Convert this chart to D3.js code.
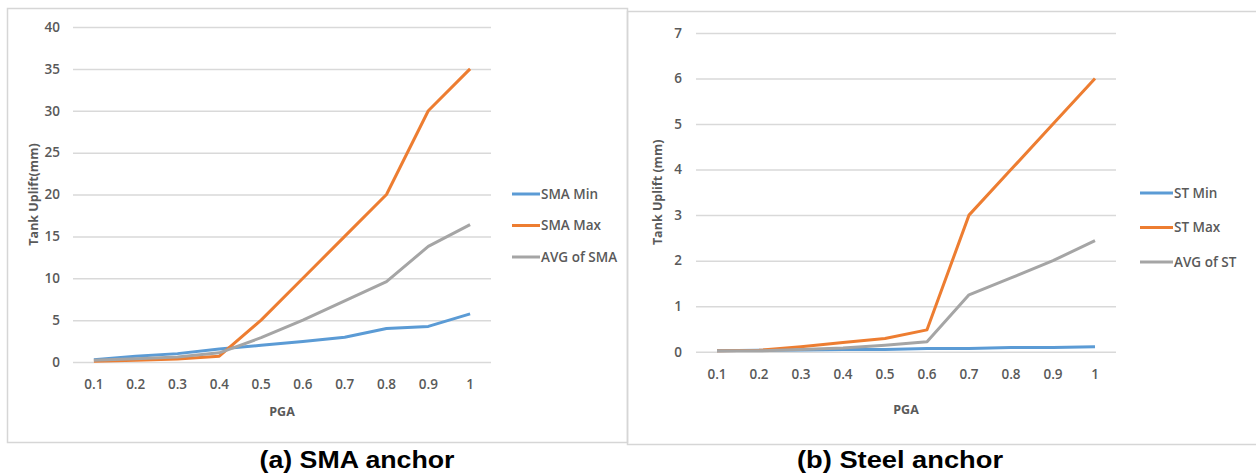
<!DOCTYPE html>
<html><head><meta charset="utf-8">
<script src="https://cdn.jsdelivr.net/npm/d3@7"></script>
<style>body{margin:0;background:#fff}svg{display:block}</style>
</head><body>
<script>
const pga = ["0.1","0.2","0.3","0.4","0.5","0.6","0.7","0.8","0.9","1"];
const smaMin = [0.27,0.7,1.0,1.55,2.0,2.45,2.95,4.0,4.25,5.75];
const smaMax = [0.1,0.2,0.35,0.7,5,10,15,20,30,35];
const smaAvg = [0.2,0.4,0.6,1.1,2.9,5.0,7.3,9.6,13.8,16.4];
const stMin = [0.02,0.03,0.04,0.05,0.05,0.07,0.07,0.09,0.09,0.11];
const stMax = [0.02,0.03,0.11,0.2,0.29,0.48,3.0,4.0,5.0,6.0];
const stAvg = [0.02,0.02,0.05,0.08,0.14,0.22,1.25,1.62,2.0,2.44];
const smaTicks = [0,5,10,15,20,25,30,35,40];
const stTicks = [0,1,2,3,4,5,6,7];
const colors = ["#5B9BD5","#ED7D31","#A5A5A5"];

const svg = d3.select("body").append("svg").attr("width",1256).attr("height",476);
const font = "'Open Sans', sans-serif";

function panel(o){
  const g = svg.append("g");
  g.append("rect").attr("x",o.box[0]+0.5).attr("y",o.box[1]+0.5).attr("width",o.box[2]).attr("height",o.box[3])
    .attr("fill","none").attr("stroke","#d6d6d6").attr("stroke-width",1.5);
  const x = d3.scaleBand().domain(pga).range([o.x0,o.x1]);
  const y = d3.scaleLinear().domain([0,d3.max(o.ticks)]).range([o.y0,o.y1]);
  g.append("g").selectAll("line").data(o.ticks).join("line")
    .attr("x1",o.x0).attr("x2",o.x1).attr("y1",d=>y(d)+0.5).attr("y2",d=>y(d)+0.5)
    .attr("stroke","#d9d9d9").attr("stroke-width",1.5);
  const ya = d3.axisLeft(y).tickValues(o.ticks).tickFormat(d3.format("d")).tickSize(0).tickPadding(o.tickPad);
  const yg = g.append("g").attr("transform",`translate(${o.x0},0)`).call(ya);
  yg.select(".domain").remove();
  yg.selectAll("text").attr("font-family",font).attr("font-size",13.5).attr("font-weight",600).attr("fill","#595959");
  const xa = d3.axisBottom(x).tickSize(0).tickPadding(o.xPad);
  const xg = g.append("g").attr("transform",`translate(0,${o.y0})`).call(xa);
  xg.select(".domain").remove();
  xg.selectAll("text").attr("font-family",font).attr("font-size",13.5).attr("font-weight",600).attr("fill","#595959");
  const line = d3.line().x((d,i)=>x(pga[i])+x.bandwidth()/2).y(d=>y(d));
  o.series.forEach((s,i)=>{
    g.append("path").datum(s.v).attr("d",line).attr("fill","none")
      .attr("stroke",colors[i]).attr("stroke-width",3).attr("stroke-linejoin","round");
  });
  o.series.forEach((s,i)=>{
    const ly = o.leg[1] + i*o.leg[2];
    g.append("line").attr("x1",o.leg[0]).attr("x2",o.leg[0]+o.leg[3]).attr("y1",ly).attr("y2",ly)
      .attr("stroke",colors[i]).attr("stroke-width",3);
    g.append("text").attr("x",o.leg[0]+o.leg[3]+1).attr("y",ly).attr("dy","0.35em")
      .attr("font-family",font).attr("font-size",13.5).attr("font-weight",600).attr("fill","#595959").text(s.name);
  });
  g.append("text").attr("x",(o.x0+o.x1)/2).attr("y",o.xtY).attr("text-anchor","middle")
    .attr("font-family",font).attr("font-size",12.5).attr("font-weight","bold").attr("fill","#595959").text("PGA");
  g.append("text").attr("transform",`translate(${o.ytX},${(o.y0+o.y1)/2}) rotate(-90)`).attr("text-anchor","middle")
    .attr("font-family",font).attr("font-size",12.5).attr("font-weight","bold").attr("fill","#595959").text(o.ytitle);
  g.append("text").attr("x",o.cap[0]).attr("y",o.cap[1]).attr("text-anchor","middle")
    .attr("font-family","'Liberation Sans', Arial, sans-serif").attr("font-size",23).attr("font-weight","bold")
    .attr("textLength",o.cap[2]).attr("lengthAdjust","spacingAndGlyphs")
    .attr("fill","#000").text(o.caption);
}

panel({box:[7,8,620,434], x0:73, x1:491, y0:362, y1:27, ticks:smaTicks, tickPad:13, xPad:17,
  series:[{name:"SMA Min",v:smaMin},{name:"SMA Max",v:smaMax},{name:"AVG of SMA",v:smaAvg}],
  leg:[512,194,31.5,28], xtY:416, ytX:38, ytitle:"Tank Uplift(mm)", cap:[357,468,195], caption:"(a) SMA anchor"});

panel({box:[627,11,640,433], x0:696, x1:1116, y0:351.7, y1:33, ticks:stTicks, tickPad:14, xPad:18,
  series:[{name:"ST Min",v:stMin},{name:"ST Max",v:stMax},{name:"AVG of ST",v:stAvg}],
  leg:[1140,193,34.5,33], xtY:414, ytX:662, ytitle:"Tank Uplift (mm)", cap:[900,468,206], caption:"(b) Steel anchor"});
</script>
</body></html>
